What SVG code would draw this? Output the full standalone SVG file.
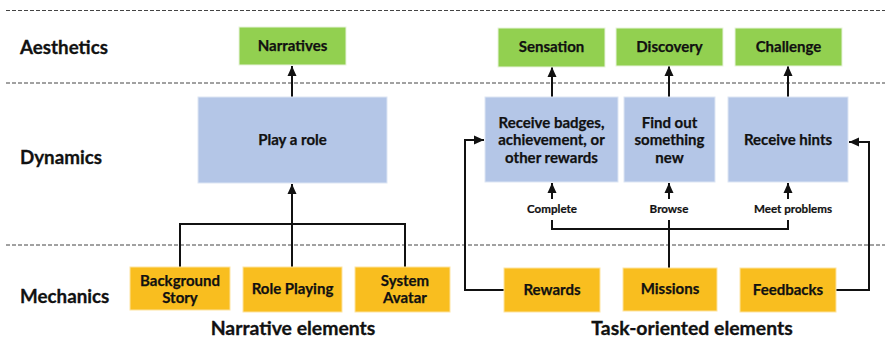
<svg xmlns="http://www.w3.org/2000/svg" width="885" height="339" viewBox="0 0 885 339">
<defs>
<marker id="ah" viewBox="0 0 10 10" refX="10" refY="5" markerWidth="10" markerHeight="10" markerUnits="userSpaceOnUse" orient="auto">
<path d="M0,0.5 L10,5 L0,9.5 z" fill="#111"/>
</marker>
<style>
.dash{stroke:#444;stroke-width:1;stroke-dasharray:4,2;fill:none}
.g{fill:#92D050;stroke:#e8f3dc;stroke-width:1}
.b{fill:#B4C6E7;stroke:#dde6f4;stroke-width:1}
.o{fill:#F9BE1F;stroke:#fde3a0;stroke-width:1}
.t{font-family:Lato,"Open Sans",sans-serif;font-weight:bold;fill:#111;text-anchor:middle;font-size:15px;stroke:#111;stroke-width:0.25}
.h{font-family:Lato,"Open Sans",sans-serif;font-weight:bold;fill:#111;font-size:18.8px;stroke:#111;stroke-width:0.3}
.f{font-family:Lato,"Open Sans",sans-serif;font-weight:bold;fill:#111;font-size:19.4px;text-anchor:middle;stroke:#111;stroke-width:0.3}
.s{font-family:Lato,"Open Sans",sans-serif;font-weight:bold;fill:#111;text-anchor:middle;font-size:11.6px;stroke:#111;stroke-width:0.2}
.c{stroke:#111;stroke-width:2;fill:none}
</style>
</defs>
<g id="layers">
<line class="dash" x1="6" y1="10.5" x2="885" y2="10.5"/>
<line class="dash" x1="6" y1="83" x2="885" y2="83"/>
<line class="dash" x1="6" y1="245" x2="885" y2="245"/>
<text class="h" x="20" y="54">Aesthetics</text>
<text class="h" x="20" y="164">Dynamics</text>
<text class="h" x="20" y="303">Mechanics</text>
<text class="f" x="293" y="335">Narrative elements</text>
<text class="f" x="692" y="335">Task-oriented elements</text>
</g>
<g id="connectors">
<line class="c" x1="292" y1="97" x2="292" y2="66" marker-end="url(#ah)"/>
<line class="c" x1="552" y1="97" x2="552" y2="67" marker-end="url(#ah)"/>
<line class="c" x1="669" y1="97" x2="669" y2="66" marker-end="url(#ah)"/>
<line class="c" x1="788" y1="97" x2="788" y2="66" marker-end="url(#ah)"/>
<polyline class="c" points="180,267 180,224 405,224 405,267"/>
<line class="c" x1="292" y1="267" x2="292" y2="184" marker-end="url(#ah)"/>
<line class="c" x1="552" y1="199" x2="552" y2="183" marker-end="url(#ah)"/>
<line class="c" x1="669" y1="199" x2="669" y2="183" marker-end="url(#ah)"/>
<line class="c" x1="788" y1="199" x2="788" y2="183" marker-end="url(#ah)"/>
<polyline class="c" points="552,220 552,229 788,229 788,220"/>
<line class="c" x1="669" y1="220" x2="669" y2="268"/>
<polyline class="c" points="504,290 465,290 465,140 484,140" marker-end="url(#ah)"/>
<polyline class="c" points="836,290 869,290 869,142 849,142" marker-end="url(#ah)"/>
<text class="s" x="552" y="213">Complete</text>
<text class="s" x="669" y="213">Browse</text>
<text class="s" x="793" y="213">Meet problems</text>
</g>
<g id="narratives"><rect class="g" x="239" y="27" width="107" height="38"/><text class="t" x="292.5" y="51">Narratives</text></g>
<g id="sensation"><rect class="g" x="498" y="28" width="107" height="39"/><text class="t" x="551.5" y="52">Sensation</text></g>
<g id="discovery"><rect class="g" x="616" y="28" width="107" height="38"/><text class="t" x="669.5" y="52">Discovery</text></g>
<g id="challenge"><rect class="g" x="735" y="28" width="107" height="38"/><text class="t" x="788.5" y="52">Challenge</text></g>
<g id="play-role"><rect class="b" x="198" y="97" width="189" height="86"/><text class="t" x="292.5" y="145">Play a role</text></g>
<g id="receive-badges"><rect class="b" x="485" y="97" width="133" height="85"/><text class="t" x="551.5"><tspan x="551.5" y="128">Receive badges,</tspan><tspan x="551.5" y="145.3">achievement, or</tspan><tspan x="551.5" y="162.6">other rewards</tspan></text></g>
<g id="find-out"><rect class="b" x="624" y="97" width="91" height="85"/><text class="t" x="669.5"><tspan x="669.5" y="128">Find out</tspan><tspan x="669.5" y="145.3">something</tspan><tspan x="669.5" y="162.6">new</tspan></text></g>
<g id="receive-hints"><rect class="b" x="728" y="97" width="120" height="85"/><text class="t" x="788" y="145">Receive hints</text></g>
<g id="background-story"><rect class="o" x="130" y="267" width="100" height="43"/><text class="t" x="180"><tspan x="180" y="286">Background</tspan><tspan x="180" y="303.3">Story</tspan></text></g>
<g id="role-playing"><rect class="o" x="243" y="267" width="99" height="45"/><text class="t" x="292.5" y="294">Role Playing</text></g>
<g id="system-avatar"><rect class="o" x="355" y="267" width="95" height="45"/><text class="t" x="405"><tspan x="405" y="286">System</tspan><tspan x="405" y="303.3">Avatar</tspan></text></g>
<g id="rewards"><rect class="o" x="504" y="268" width="96" height="44"/><text class="t" x="552" y="295">Rewards</text></g>
<g id="missions"><rect class="o" x="623" y="268" width="94" height="43"/><text class="t" x="670" y="294">Missions</text></g>
<g id="feedbacks"><rect class="o" x="740" y="268" width="96" height="44"/><text class="t" x="788" y="295">Feedbacks</text></g>
</svg>
